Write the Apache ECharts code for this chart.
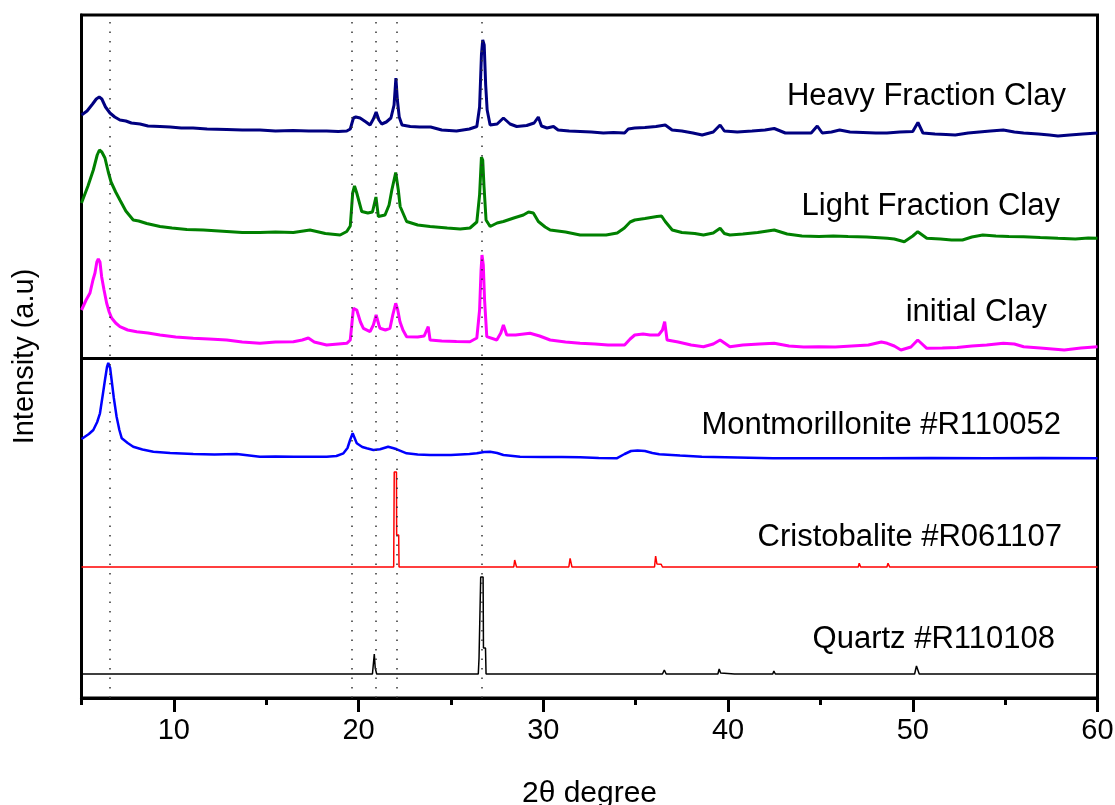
<!DOCTYPE html>
<html>
<head>
<meta charset="utf-8">
<script src="https://cdn.jsdelivr.net/npm/echarts@6/dist/echarts.min.js"></script>
<style>
html,body{margin:0;padding:0;background:#fff;}
#chart{width:1115px;height:805px;}
</style>
</head>
<body>
<div id="chart"></div>
<script>
// 2θ (degree), stacked intensity (a.u.)
const heavyClay = [
[5.0,583],[5.3,587],[5.6,594],[5.8,599],[5.96,601],[6.1,599],[6.3,591],[6.54,585],[6.8,581],[7.08,578],
[7.4,577],[7.7,575],[8.17,574],[8.6,572],[9.25,571.5],[9.8,571],[10.4,570],[11.04,570],[11.8,569],[12.86,568.5],
[13.7,568],[14.66,568],[15.5,567],[16.45,567.5],[17.3,567],[18.27,567],[18.9,566.5],[19.36,567],[19.55,569],[19.72,580],
[19.85,581],[20.08,580],[20.4,576],[20.62,573],[20.8,579],[20.95,586],[21.1,578],[21.25,574],[21.5,576],[21.75,580],
[21.92,593],[22.02,620],[22.1,598],[22.2,581],[22.35,573],[22.8,571.5],[23.3,571],[23.9,571],[24.5,568],[25.3,567],
[26.0,569],[26.4,571.5],[26.55,591],[26.65,643],[26.72,658],[26.8,653],[26.88,613],[26.96,588],[27.12,573],[27.5,574],
[27.84,580],[28.2,574],[28.56,571.5],[29.1,572.5],[29.5,575],[29.73,581],[29.9,572],[30.2,570],[30.55,571.5],[30.8,568],
[31.4,567],[32.0,566.5],[32.6,566],[33.25,565],[33.8,565.5],[34.4,565],[34.6,569],[34.95,570],[35.5,570.5],[36.1,571.5],
[36.6,573],[36.97,568],[37.5,567],[38.1,565],[38.6,563],[39.2,566],[39.57,573],[39.8,567],[40.5,566],[41.3,567],
[42.0,568],[42.5,569.5],[43.1,565],[43.8,565],[44.5,565],[44.83,572],[45.1,565],[45.6,566],[46.04,568],[46.6,566],
[47.3,565.5],[48.0,565],[48.6,565],[49.3,566],[50.0,566.5],[50.28,575.5],[50.55,565],[51.2,564],[51.8,563.5],[52.3,563],
[53.0,565],[53.6,566],[54.2,567],[54.9,568],[55.5,566],[56.0,565],[56.8,564],[57.4,563],[57.86,562],[58.5,563],
[59.2,564],[60.0,565]
];
const lightClay = [
[5.0,495],[5.1,496],[5.35,512],[5.64,528],[5.85,543],[5.97,548],[6.1,546],[6.27,540],[6.45,526],[6.6,516],
[6.85,506],[7.08,498],[7.4,487],[7.8,478],[8.1,477],[8.53,474.5],[9.25,471.5],[9.9,470],[10.7,468.5],[11.6,468],
[12.86,466.5],[13.7,465.5],[14.66,465.5],[15.5,466],[16.47,465.5],[17.37,468],[18.2,464.5],[19.0,463],[19.36,466.5],[19.55,472],
[19.68,505],[19.78,512],[19.9,505],[20.17,486.5],[20.5,485],[20.75,486],[20.94,501],[21.07,481.5],[21.43,483],[21.65,493],
[21.8,508],[22.01,525.5],[22.15,508],[22.25,491.5],[22.6,476.5],[23.2,473],[23.87,471.5],[24.8,470],[25.5,469],[26.03,470],
[26.4,476],[26.55,503],[26.65,541],[26.72,538],[26.79,511.5],[26.9,478],[27.12,471.5],[27.5,475],[27.84,476.5],[28.4,480],
[28.92,483],[29.2,486],[29.46,485],[29.73,476.5],[30.1,471],[30.37,468],[31.2,466],[31.99,463],[32.7,463],[33.4,463],
[34.0,465],[34.39,470],[34.7,476],[34.95,478],[35.5,479.5],[36.15,481.5],[36.4,482],[36.6,476.5],[36.98,468],[37.5,465.5],
[38.2,464.5],[38.67,463],[39.2,465],[39.57,469.7],[39.8,464.5],[40.1,463],[40.8,464],[41.6,465.5],[42.5,468],[43.2,464],
[44.0,462],[44.92,461.5],[45.7,462],[46.5,461.5],[47.5,461],[48.62,459.7],[49.0,459],[49.54,456.3],[50.0,462],[50.27,466.3],
[50.76,459.7],[51.5,459],[52.1,458],[52.69,458],[53.2,461],[53.79,463],[54.5,462],[55.2,461.5],[56.0,461.3],[56.9,460.5],
[57.86,459.7],[58.8,459],[59.5,460],[60.0,459.7]
];
const initialClay = [
[5.0,388],[5.25,398],[5.46,405],[5.62,418],[5.73,425],[5.83,436],[5.91,439],[6.0,436],[6.09,421.3],[6.22,408],
[6.36,395],[6.5,386],[6.63,380],[6.85,375],[7.08,371.3],[7.5,368],[7.99,366.3],[8.6,365],[9.25,363],[10.1,361],
[11.05,359.7],[11.9,359],[12.86,358],[13.7,356],[14.66,354.7],[15.5,356],[16.47,356.3],[16.95,358],[17.28,360],[17.6,356],
[18.27,353],[18.9,354],[19.36,354.7],[19.55,358],[19.63,373],[19.72,389.7],[19.9,388],[20.1,376],[20.26,369.7],[20.62,366.3],
[20.8,373],[20.95,383],[21.1,373],[21.16,369.7],[21.45,368],[21.7,369.7],[21.85,383],[22.01,394.7],[22.12,388],[22.24,376.3],
[22.4,368],[22.6,361.3],[23.2,361],[23.55,362],[23.69,368],[23.77,371.3],[23.87,358],[24.5,357],[25.3,356.5],[26.03,356.3],
[26.4,360],[26.55,388],[26.63,428],[26.68,443],[26.75,433],[26.82,398],[26.94,361.3],[27.48,358],[27.7,365],[27.84,373],
[28.02,363],[28.5,363],[29.28,364.7],[29.8,362],[30.37,358],[31.2,356],[31.99,354.7],[32.8,354],[33.5,353],[34.4,353],
[34.7,359],[34.95,363],[35.4,364],[35.78,363],[36.24,363],[36.45,368],[36.57,376.3],[36.7,358],[37.3,356],[38.0,353],
[38.67,351.3],[39.2,354],[39.57,358],[40.1,351.3],[40.8,353],[41.7,354],[42.5,354.7],[43.3,352],[44.1,351],[44.92,351.3],
[45.8,351],[46.7,352],[47.6,353],[48.3,356],[48.62,354.7],[49.0,352],[49.36,348],[49.9,351],[50.27,358],[50.76,349.7],
[51.6,350],[52.4,350.5],[53.2,352],[54.0,353],[54.9,354.7],[55.5,354],[56.0,351.3],[56.9,350],[58.2,348],[59.1,350],
[60.0,351.3]
];
const montmorillonite = [
[5.0,259],[5.1,259.7],[5.4,264],[5.64,268],[5.85,276],[6.0,284.7],[6.15,303],[6.27,318],[6.38,331],[6.45,335],
[6.55,330],[6.63,318],[6.75,300],[6.9,281.3],[7.05,268],[7.18,259.7],[7.5,255],[7.8,251.3],[8.3,248.5],[8.89,246.3],
[9.8,245],[11.05,244],[12.2,243.5],[13.4,244],[14.66,241.3],[15.5,241.5],[16.5,241.3],[17.4,241.3],[18.27,241.3],[18.8,242],
[19.18,244.7],[19.4,250],[19.54,258],[19.68,264.7],[19.9,254.7],[20.2,251],[20.44,249.7],[20.8,248],[21.16,248.7],[21.6,251.3],
[21.85,250],[22.07,248.7],[22.6,244.7],[23.2,243.5],[23.87,243],[25.0,243],[26.0,244],[26.4,244.7],[26.8,246],[27.12,246.3],
[27.5,245],[27.84,243],[28.74,241.3],[30.0,241],[31.0,241],[31.99,240.7],[33.0,240],[33.97,239.7],[34.4,244],[34.75,247],
[35.1,247.5],[35.5,247],[35.9,245],[36.28,243.7],[37.4,242.5],[38.58,241.3],[40.5,240.5],[42.43,239.7],[45.0,239.7],[48.0,239.7],
[51.0,240],[54.0,239.7],[57.0,240],[60.0,239.7]
];
const cristobalite = [
[5.0,131],[21.9,131],[21.93,226],[22.05,226],[22.06,163],[22.17,163],[22.19,131],[28.4,131],[28.45,138],[28.55,131],
[31.38,131],[31.45,139.7],[31.55,131],[36.02,131],[36.08,142],[36.15,134],[36.38,133.7],[36.45,131],[42.6,131],[42.65,133],
[42.7,131],[44.76,131],[44.8,133],[44.85,131],[47.05,131],[47.1,134.7],[47.18,131],[48.6,131],[48.66,134.7],[48.75,131],
[54.17,131],[54.22,133],[54.27,131],[57.15,131],[57.2,133],[57.28,131],[60.0,131]
];
const quartz = [
[5.0,24],[20.75,24],[20.85,44],[20.9,30],[20.98,24],[26.48,24],[26.52,40],[26.6,40],[26.61,121],[26.74,121],
[26.76,50],[26.87,50],[26.9,24],[36.45,24],[36.55,28],[36.65,24],[39.45,24],[39.52,29],[39.6,25],[39.65,24],
[40.35,24],[40.41,26],[40.47,24],[42.42,24],[42.48,27],[42.56,24],[45.84,24],[45.88,25.5],[45.93,24],[50.1,24],
[50.2,32],[50.25,31],[50.35,24],[54.85,24],[54.9,26],[54.97,24],[59.95,24],[60.0,28]
];
const referenceLines = [6.54, 19.63, 20.93, 22.06, 26.66];
const separatorLevel = 340;
const majorTicks = [10, 20, 30, 40, 50, 60];
const minorTicks = [5, 15, 25, 35, 45, 55];
const seriesNames = ['Heavy Fraction Clay','Light Fraction Clay','initial Clay','Montmorillonite #R110052','Cristobalite #R061107','Quartz #R110108'];
const seriesColors = ['#000080','#008000','#ff00ff','#0000ff','#ff0000','#000000'];

const chart = echarts.init(document.getElementById('chart'), null, {renderer:'canvas'});
const FONT = '"Liberation Sans", Arial, sans-serif';
const allData = [heavyClay, lightClay, initialClay, montmorillonite, cristobalite, quartz];
const widths = [3, 3, 3, 2.5, 1.5, 1.5];
const labelPos = [[1066,96],[1060,206],[1047,312],[1061,425],[1062,537],[1055,639]];

const series = allData.map((d, i) => ({
  name: seriesNames[i],
  type: 'line',
  data: d,
  showSymbol: false,
  symbol: 'none',
  lineStyle: {color: seriesColors[i], width: widths[i]},
  itemStyle: {color: seriesColors[i]},
  silent: true,
  animation: false,
  z: 3
}));
series.push({
  type: 'line', data: [], silent: true, animation: false,
  markLine: {
    symbol: 'none', silent: true, animation: false,
    label: {show: false},
    data: referenceLines.map(v => ({xAxis: v, lineStyle: {color: '#333', width: 1.5, type: [1.5, 8]}}))
      .concat([{yAxis: separatorLevel, lineStyle: {color: '#000', width: 3, type: 'solid'}}])
  }
});

chart.setOption({
  backgroundColor: '#fff',
  animation: false,
  grid: {left: 81.5, right: 17.5, top: 15, bottom: 107, show: true, borderColor: '#000', borderWidth: 3,
         containLabel: false, outerBoundsMode: 'none'},
  xAxis: [{
    type: 'value', min: 5, max: 60,
    name: '2θ degree', nameLocation: 'middle', nameGap: 81,
    nameTextStyle: {fontSize: 30, color: '#000', fontFamily: FONT},
    axisLine: {show: true, onZero: false, lineStyle: {color: '#000', width: 3}},
    axisTick: {show: true, inside: false, length: 14, customValues: majorTicks, lineStyle: {color: '#000', width: 3}},
    axisLabel: {show: true, customValues: majorTicks, fontSize: 29, color: '#000', fontFamily: FONT, margin: 18},
    splitLine: {show: false}
  }, {
    type: 'value', min: 5, max: 60, position: 'bottom', gridIndex: 0,
    axisLine: {show: false, onZero: false},
    axisTick: {show: true, inside: false, length: 7, customValues: minorTicks, lineStyle: {color: '#000', width: 3}},
    axisLabel: {show: false},
    splitLine: {show: false}
  }],
  yAxis: {
    type: 'value', min: 0, max: 683,
    name: 'Intensity (a.u)', nameLocation: 'middle', nameGap: 42, nameRotate: 90,
    nameTextStyle: {fontSize: 29, color: '#000', fontFamily: FONT},
    axisLine: {show: true, lineStyle: {color: '#000', width: 3}},
    axisTick: {show: false}, axisLabel: {show: false}, splitLine: {show: false}
  },
  graphic: seriesNames.map((n, i) => ({
    type: 'text', x: labelPos[i][0], y: labelPos[i][1], z: 10,
    style: {text: n, fill: '#000', font: '31px ' + FONT, textAlign: 'right', textVerticalAlign: 'middle', align: 'right', verticalAlign: 'middle'}
  })),
  series: series
});
</script>
</body>
</html>
